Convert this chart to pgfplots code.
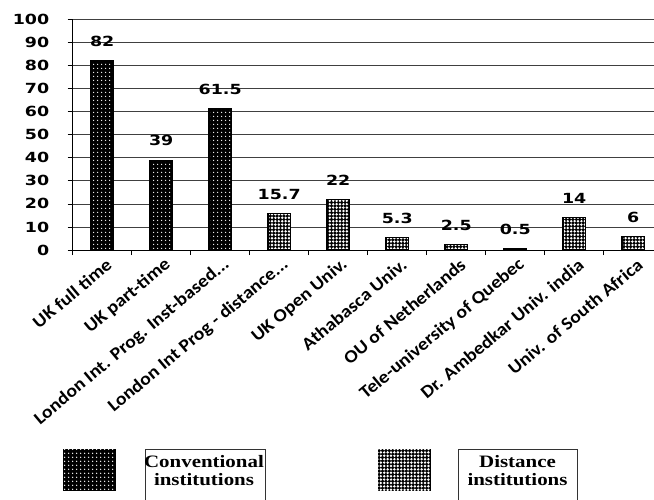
\documentclass[border=0pt]{standalone}
\usepackage{fontspec}
\setmainfont{DejaVu Sans}[FakeStretch=1.25]
\newfontfamily\catfont{Carlito}[FakeStretch=1.1]
\newfontfamily\legfont{Liberation Serif}[FakeStretch=1.2]
\usepackage{pgfplots}
\pgfplotsset{compat=1.18}
\usetikzlibrary{patterns.meta}

\newcommand\tdots{...}

\tikzset{
  conv/.style={fill=black, draw=black, line width=1.2bp,
    postaction={pattern={Dots[distance=3.6bp, radius=0.8bp]}, pattern color=white}},
  dist/.style={fill=black, draw=black, line width=1.2bp,
    postaction={pattern={Dots[distance=3.4bp, radius=1.35bp]}, pattern color=white}},
}

\begin{document}
\begin{tikzpicture}
\begin{axis}[
  scale only axis, width=590bp, height=230.5bp,
  xmin=-0.5, xmax=9.5, ymin=0, ymax=100,
  axis x line*=bottom, axis y line*=left,
  axis line style={black, line width=1bp, -},
  ytick={0,10,...,100},
  ymajorgrids, major grid style={black!75, line width=0.8bp},
  xtick={-0.5,0.5,...,9.5},
  x tick label as interval,
  xticklabels={UK full time, UK part-time, London Int. Prog. Inst-based\tdots, London Int Prog - distance\tdots, UK Open Univ., Athabasca Univ., OU of Netherlands, Tele-university of Quebec, Dr. Ambedkar Univ. india, Univ. of South Africa},
  tick align=outside, major tick length=5bp,
  tick style={black, line width=0.8bp},
  yticklabel style={font=\bfseries\fontsize{14}{15}\selectfont, xshift=-15bp},
  xticklabel style={rotate=40, anchor=east, xshift=4bp, yshift=-10bp,
    font=\catfont\bfseries\fontsize{18}{19}\selectfont},
  /pgf/number format/assume math mode=true,
  ybar, bar width=22.6bp, bar shift=0pt,
  nodes near coords,
  every node near coord/.append style={font=\bfseries\fontsize{14}{15}\selectfont, yshift=10bp},
]
% conventional institutions
\addplot[conv] coordinates {(0,82) (1,39) (2,61.5)};
% distance institutions
\addplot[dist] coordinates {(3,15.7) (4,22) (5,5.3) (6,2.5) (7,0.5) (8,14) (9,6)};
\end{axis}

% legend
\draw[conv, line width=0.8bp] (-9.7bp,-199bp) rectangle (42.3bp,-240bp);
\draw[black!80, line width=0.8bp] (72.3bp,-199bp) rectangle (192.3bp,-262bp);
\node[align=center, font=\legfont\bfseries\fontsize{17.5}{18}\selectfont] at (131.3bp,-221bp) {Conventional\\institutions};
\draw[dist, line width=0.8bp] (305.3bp,-199bp) rectangle (357.3bp,-240bp);
\draw[black!80, line width=0.8bp] (385.3bp,-199bp) rectangle (504.3bp,-262bp);
\node[align=center, font=\legfont\bfseries\fontsize{17.5}{18}\selectfont] at (444.8bp,-221bp) {Distance\\institutions};

\pgfresetboundingbox
\useasboundingbox (-72.7bp,-250bp) rectangle (581.3bp,250bp);
\end{tikzpicture}
\end{document}
